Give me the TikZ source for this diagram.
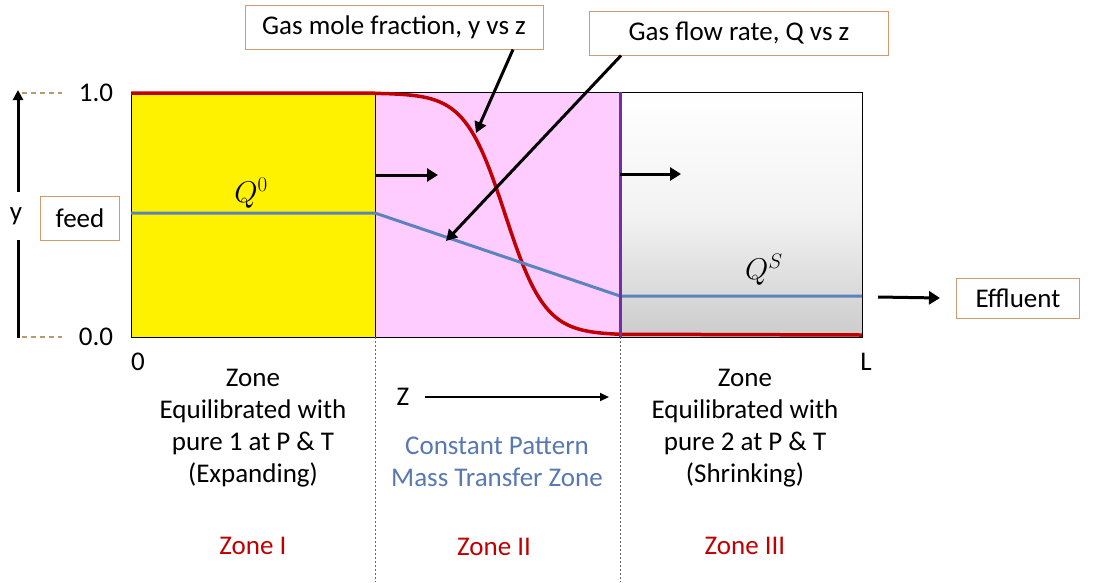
\documentclass[tikz,border=0pt]{standalone}
\usepackage{fix-cm}
\usepackage{fontspec}
\setmainfont{Carlito}
\usetikzlibrary{arrows.meta}
\definecolor{dred}{HTML}{C00000}
\definecolor{qblue}{HTML}{5B84BE}
\definecolor{tblue}{HTML}{5878B0}
\definecolor{purp}{HTML}{7030A0}
\definecolor{pinkz}{HTML}{FFCCFF}
\definecolor{boxc}{HTML}{D09A70}
\definecolor{dashc}{HTML}{B89A70}
\tikzset{
  lbl/.style={font=\fontsize{27}{32}\selectfont, inner sep=0pt},
  callout/.style={lbl, draw=boxc, line width=1pt, fill=white, minimum height=44pt},
  bigarrow/.style={line width=3pt, -{Triangle[length=11pt,width=13pt]}},
  ptr/.style={line width=3pt, -{Triangle[length=11pt,width=12pt]}},
  zonetxt/.style={lbl, align=center},
  vdash/.style={gray!80!black, line width=0.6pt, dash pattern=on 2pt off 2pt},
  qlbl/.style={inner sep=0pt, font=\fontsize{30}{34}\selectfont},
  guide/.style={dashc, line width=1.3pt, dash pattern=on 5pt off 4pt},
}
\begin{document}
\begin{tikzpicture}[x=1pt,y=-1pt]
\useasboundingbox (0,0) rectangle (1107,582);
% zone fills
\fill[yellow] (131,92) rectangle (375,337);
\fill[pinkz] (375,92) rectangle (620,337);
\shade[top color=white, bottom color=black!20, middle color=white!95!black] (620,92) rectangle (862,337);
\draw[line width=0.8pt] (131,92) rectangle (862,337);
\draw[line width=0.8pt] (375,92) -- (375,337);
% dotted separators
\draw[vdash] (375,337) -- (375,582);
\draw[vdash] (620,337) -- (620,582);
% red curve
\draw[dred, line width=3.5pt] (131,93) -- (375,93)
  plot[domain=375:620, samples=80] (\x, {93+242/(1+exp(-(\x-505)/20))})
  -- (862,335);
% blue line
\draw[qblue, line width=3pt] (131,213) -- (375,213) -- (620,296) -- (862,296);
% purple front
\draw[purp, line width=3pt] (620,92) -- (620,337);
% Q labels
\node[qlbl] (q0) at (251,193) {$Q^0$};
\node[qlbl] (qs) at (764,270) {$Q^S$};
% movement arrows
\coordinate (a1s) at (375,175); \coordinate (a1e) at (438,175);
\coordinate (a2s) at (620,174); \coordinate (a2e) at (681,174);
\draw[bigarrow] (a1s) -- (a1e);
\draw[bigarrow] (a2s) -- (a2e);
% y axis
\node[lbl, minimum height=48pt] (ylab) at (16,216) {y};
\coordinate (ybot) at (18,338); \coordinate (ytop) at (18,90);
\draw[line width=3pt] (ybot) -- (ylab.south -| ybot);
\draw[line width=3pt, -{Triangle[length=10pt,width=10pt]}] (ylab.north -| ytop) -- (ytop);
\draw[guide] (22,93) -- (62,93);
\draw[guide] (22,337) -- (62,337);
\node[lbl] (one) at (96,93) {1.0};
\node[lbl] (zero) at (96,337) {0.0};
\node[lbl] (o) at (138,362) {0};
\node[lbl] (L) at (866,362) {L};
% feed
\node[callout, minimum width=79pt] (feed) at (80,218) {feed};
% effluent
\node[callout, minimum width=123pt, minimum height=40pt] (eff) at (1018,298) {Effluent};
\coordinate (es) at (878,297);
\draw[bigarrow] (es) -- ([xshift=-16pt]eff.west);
% top callouts
\node[callout, minimum width=298pt] (gmf) at (394,27) {Gas mole fraction, y vs z};
\node[callout, minimum width=299pt] (gfr) at (739,33) {Gas flow rate, Q vs z};
\coordinate (c1) at (476,133);
\coordinate (c2) at (446,241);
\draw[ptr] ([xshift=119pt]gmf.south) -- (c1);
\draw[ptr] ([xshift=-118pt]gfr.south) -- (c2);
% zone texts
\node[zonetxt] (z1) at (253,428) {Zone\\Equilibrated with\\pure 1 at P \& T\\(Expanding)};
\node[zonetxt] (z3) at (745,428) {Zone\\Equilibrated with\\pure 2 at P \& T\\(Shrinking)};
\node[zonetxt, text=tblue] (z2) at (497,462) {Constant Pattern\\Mass Transfer Zone};
\node[lbl] (zl) at (403,397) {Z};
\coordinate (zs) at (425,397); \coordinate (ze) at (609,397);
\draw[line width=2pt, -{Triangle[length=9pt,width=8pt]}] (zs) -- (ze);
\node[lbl, text=dred] (zI) at (253,546) {Zone I};
\node[lbl, text=dred] (zII) at (494,547) {Zone II};
\node[lbl, text=dred] (zIII) at (745,546) {Zone III};
\end{tikzpicture}
\end{document}
